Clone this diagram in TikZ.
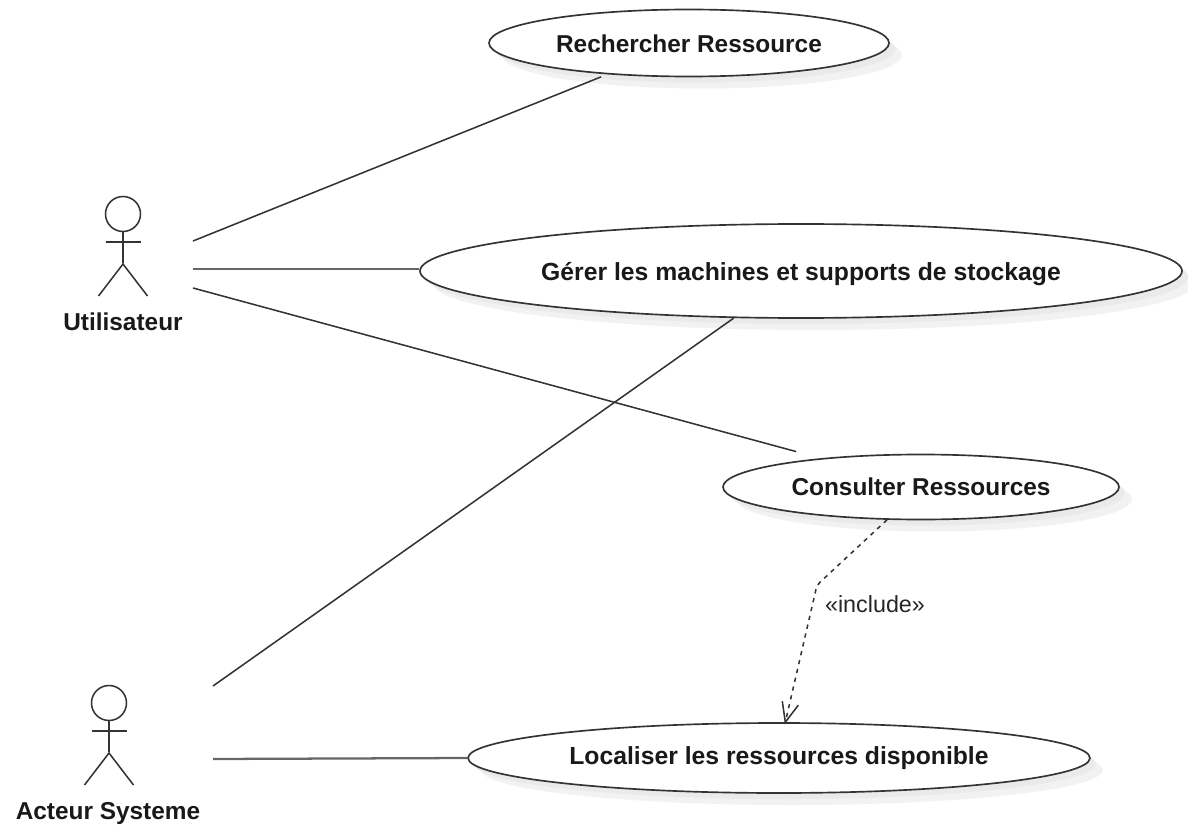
\documentclass[tikz,border=0pt]{standalone}
\usepackage{fontspec}
\setmainfont{Liberation Sans}
\usetikzlibrary{arrows.meta,shapes.geometric}
\definecolor{shadowA}{HTML}{F2F2F2}
\definecolor{shadowB}{HTML}{EAEAEA}
\definecolor{linecol}{HTML}{333333}
\definecolor{hlinecol}{HTML}{666666}
\tikzset{
  usecase/.style={ellipse,draw=linecol,line width=1.25pt,fill=white,inner sep=0pt,font=\bfseries\fontsize{18.3}{22}\selectfont,text=black!90},
  longcase/.style={usecase,font=\bfseries\fontsize{18.55}{22}\selectfont},
  baseat/.style={text height=#1,text depth=0pt},
  link/.style={draw=linecol,line width=1.15pt},
  hlink/.style={draw=hlinecol,line width=1.7pt},
  inclink/.style={draw=linecol,line width=1.15pt,dash pattern=on 3.2pt off 3.6pt,rounded corners=3pt},
  actorline/.style={draw=linecol,line width=1.15pt},
  actorlabel/.style={font=\bfseries\fontsize{18.3}{22}\selectfont,inner sep=0pt,text=black!90},
  tiplines/.style={draw=linecol,line width=1.15pt},
}
\newcommand{\shadowell}[4]{%
  \fill[shadowA] (#1+13,#2+12) ellipse [x radius=#3,y radius=#4];
  \fill[shadowB] (#1+6,#2+6) ellipse [x radius=#3,y radius=#4];
}
\newcommand{\actorfig}[2]{%
  \draw[actorline] (#1,#2) circle [radius=17.5];
  \draw[actorline] (#1,#2+17.5) -- (#1,#2+49);
  \draw[actorline] (#1-17.5,#2+28) -- (#1+17.5,#2+28);
  \draw[actorline] (#1-24.5,#2+82) -- (#1,#2+50) -- (#1+24.5,#2+82);
}
\begin{document}
\begin{tikzpicture}[x=0.75pt,y=-0.75pt]
\useasboundingbox (0,0) rectangle (1188,827);
\shadowell{689}{43}{200}{33.5}
\shadowell{801}{271}{381}{47}
\shadowell{921}{487}{198}{32.5}
\shadowell{779}{758}{311}{35}
\node[usecase,baseat=15pt,minimum width=300pt,minimum height=50.25pt] (uc1) at (689,43) {Rechercher Ressource};
\node[longcase,baseat=15pt,minimum width=571.5pt,minimum height=70.5pt] (uc2) at (801,271) {Gérer les machines et supports de stockage};
\node[usecase,baseat=12pt,minimum width=297pt,minimum height=48.75pt] (uc3) at (921,487) {Consulter Ressources};
\node[longcase,baseat=9pt,minimum width=466.5pt,minimum height=52.5pt] (uc4) at (779,758) {Localiser les ressources disponible};
\actorfig{123}{214}
\actorfig{109}{703}
\node[actorlabel] (a1) at (123,322) {Utilisateur};
\node[actorlabel] (a2) at (108,814) {Acteur Systeme};
\coordinate (p1a) at (193,241);
\coordinate (p1b) at (193,269);
\coordinate (p1c) at (193,288);
\coordinate (p2a) at (213,686);
\coordinate (p2b) at (213,759);
\coordinate (bend) at (817,585);
\draw[link,shorten >=5pt] (p1a) -- (uc1.201.6);
\draw[hlink] (p1b) -- (p1b -| uc2.west);
\draw[link,shorten >=19pt] (p1c) -- (uc3.164.4);
\draw[link] (p2a) -- (uc2.215.2);
\draw[hlink] (p2b) -- (uc4.west);
\draw[inclink] (uc3.224) -- (bend) -- (uc4.80.5);
\draw[tiplines] (uc4.80.5) ++(-3,-21) -- (uc4.80.5) -- ++(13,-17);
\node[inner sep=0pt,font=\fontsize{17.5}{21}\selectfont,text=black!85] (inc) at (875,604) {«include»};
\end{tikzpicture}
\end{document}
